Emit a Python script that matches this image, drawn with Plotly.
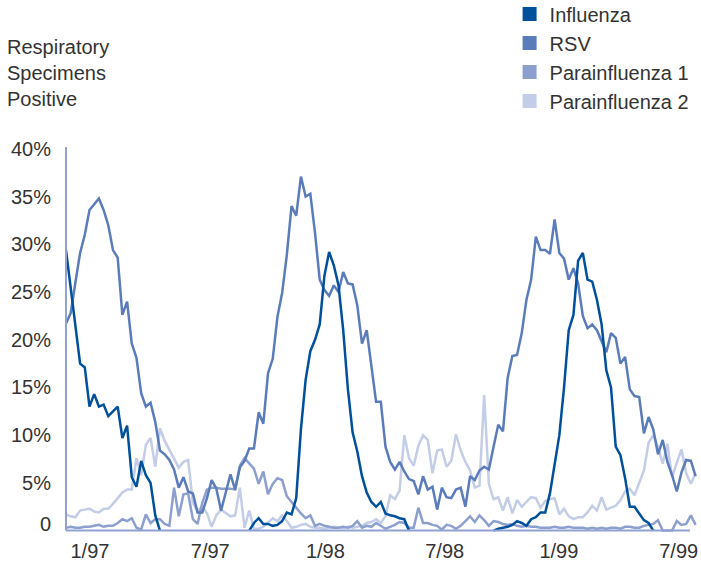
import plotly.graph_objects as go

# Données hebdomadaires (% de prélèvements respiratoires positifs)
# Un point par semaine, de fin novembre 1996 à fin juillet 1999
week = list(range(135))

tick_pos = [5.1, 30.7, 55.2, 80.6, 104.9, 130.4]
tick_text = ["1/97", "7/97", "1/98", "7/98", "1/99", "7/99"]
y_ticks = [5, 10, 15, 20, 25, 30, 35, 40]

# Grippe : seulement pendant les saisons de surveillance
influenza_9697 = [29.4, 25.4, 21.5, 17.5, 17.1, 13.0, 14.3, 13.0, 13.2, 12.0,
                  12.5, 13.0, 9.7, 11.0, 5.6, 4.6, 7.3, 5.8, 5.0, 1.6,
                  0.0]
influenza_9798 = [0.0, 0.8, 1.3, 0.7, 0.7, 0.5, 0.6, 1.0, 1.9, 1.7,
                  3.4, 10.6, 15.8, 18.8, 20.0, 21.6, 26.7, 29.2, 27.8, 25.7,
                  21.0, 14.8, 10.3, 8.3, 5.7, 4.0, 3.0, 2.5, 3.0, 1.8,
                  1.6, 1.5, 1.3, 1.2, 0.0]
influenza_9899 = [0.0, 0.2, 0.3, 0.4, 0.6, 1.0, 0.8, 0.5, 1.2, 1.4,
                  1.9, 1.9, 3.9, 6.8, 10.0, 15.0, 21.0, 22.6, 28.3, 29.1,
                  26.3, 26.1, 24.2, 21.6, 16.8, 15.0, 8.8, 7.9, 5.5, 2.5,
                  2.5, 1.8, 1.1, 0.8, 0.0]
influenza = (influenza_9697 + [None] * 18 + influenza_9798 + [None] * 17
             + influenza_9899 + [None] * 9)

rsv = [21.7, 22.8, 26.0, 29.1, 31.0, 33.6, 34.2, 34.8, 33.6, 32.0,
       29.4, 28.6, 22.6, 24.0, 19.6, 18.1, 14.4, 13.0, 13.4, 11.4,
       8.4, 8.0, 7.4, 6.4, 4.5, 5.6, 4.1, 3.9, 1.9, 1.9,
       3.4, 5.3, 4.4, 2.1, 4.0, 5.9, 4.3, 6.6, 7.3, 8.6,
       8.6, 12.4, 11.2, 16.5, 18.0, 22.4, 24.9, 28.9, 34.0, 33.0,
       37.1, 35.0, 35.3, 31.2, 26.3, 25.2, 24.6, 25.7, 25.0, 27.1,
       25.9, 25.8, 23.6, 19.6, 21.0, 17.2, 13.5, 13.5, 8.8, 7.2,
       6.4, 7.2, 6.2, 5.4, 5.2, 3.8, 5.7, 4.3, 4.6, 2.2,
       4.5, 3.5, 3.4, 4.3, 4.5, 2.5, 5.7, 5.3, 6.3, 6.7,
       6.4, 8.8, 11.1, 10.4, 16.0, 18.3, 18.4, 20.7, 24.2, 26.3,
       30.8, 29.4, 29.4, 29.0, 32.6, 29.1, 28.5, 26.3, 27.5, 25.9,
       22.5, 21.2, 21.6, 21.0, 19.9, 18.7, 20.7, 20.2, 17.5, 18.2,
       14.8, 14.1, 14.0, 10.2, 11.9, 10.6, 8.0, 9.5, 7.2, 5.8,
       4.1, 6.1, 7.4, 7.3, 5.7]

para1 = [0.3, 0.4, 0.3, 0.3, 0.4, 0.4, 0.5, 0.6, 0.4, 0.5,
         0.5, 0.8, 1.2, 1.0, 1.3, 0.3, 0.1, 1.7, 0.8, 1.2,
         1.2, 0.7, 0.5, 4.5, 1.5, 3.8, 3.9, 1.2, 0.7, 2.9,
         4.3, 4.5, 4.5, 4.4, 4.4, 4.4, 4.3, 6.8, 7.6, 7.1,
         6.5, 4.9, 6.2, 3.8, 4.9, 5.5, 5.3, 3.6, 3.0, 2.3,
         1.8, 1.3, 1.6, 0.5, 0.7, 0.5, 0.4, 0.3, 0.3, 0.4,
         0.3, 0.5, 1.0, 0.3, 0.5, 0.4, 0.8, 0.5, 0.2, 0.4,
         0.6, 0.9, 0.8, 0.3, 0.3, 2.4, 0.8, 0.8, 0.6, 0.5,
         0.1, 0.6, 0.5, 0.2, 0.5, 1.0, 1.5, 0.9, 1.6, 1.1,
         0.5, 1.0, 0.9, 0.7, 0.6, 0.7, 0.5, 0.4, 0.5, 0.4,
         0.4, 0.3, 0.3, 0.3, 0.4, 0.3, 0.3, 0.4, 0.3, 0.3,
         0.3, 0.2, 0.3, 0.2, 0.3, 0.2, 0.3, 0.3, 0.2, 0.4,
         0.4, 0.3, 0.3, 0.5, 0.6, 0.7, 1.1, 0.0, 0.0, 0.0,
         1.0, 0.6, 0.7, 1.6, 0.6]

para2 = [1.7, 1.5, 1.4, 2.1, 2.2, 2.3, 2.0, 1.9, 2.3, 2.3,
         2.8, 3.4, 4.0, 4.3, 4.3, 7.6, 5.8, 9.0, 9.7, 6.7,
         10.7, 9.4, 8.5, 7.5, 6.6, 7.2, 7.4, 2.9, 2.0, 2.6,
         1.8, 0.4, 1.6, 2.2, 1.8, 1.5, 1.6, 4.5, 0.3, 2.1,
         0.2, 0.2, 0.4, 0.9, 1.3, 1.0, 1.6, 1.0, 0.3, 0.4,
         0.6, 0.7, 0.4, 0.3, 0.3, 0.2, 0.3, 0.4, 0.3, 0.3,
         0.4, 0.3, 0.4, 0.5, 0.8, 0.9, 1.2, 0.8, 1.5, 3.7,
         3.3, 4.2, 10.0, 7.6, 6.8, 8.9, 10.0, 9.5, 6.0, 8.4,
         8.5, 6.7, 7.3, 10.1, 8.4, 7.2, 6.3, 4.5, 4.7, 14.2,
         4.9, 3.3, 3.5, 2.1, 3.5, 1.8, 3.2, 2.5, 3.0, 3.5,
         3.4, 2.4, 3.1, 3.3, 3.4, 1.7, 2.3, 1.5, 1.2, 1.4,
         1.4, 1.9, 2.6, 2.1, 3.5, 2.2, 2.4, 2.6, 3.2, 4.1,
         4.4, 3.7, 5.0, 6.3, 9.2, 10.0, 8.8, 7.0, 9.1, 5.6,
         7.1, 8.5, 6.0, 4.9, 6.0]

series = [
    ("Influenza", influenza, "#00509b"),
    ("RSV", rsv, "#5b7cbb"),
    ("Parainfluenza 1", para1, "#8c9fcf"),
    ("Parainfluenza 2", para2, "#c3cde7"),
]

FONT = dict(family="Liberation Sans, Arial, sans-serif", size=20, color="#333333")
AXIS_COLOR = "#8fa2d2"

fig = go.Figure()

# Courbes : de la plus claire (dessous) à la plus foncée (dessus)
for name, values, color in reversed(series):
    fig.add_trace(go.Scatter(
        x=week,
        y=values,
        mode='lines',
        name=name,
        line=dict(color=color, width=2.5),
        connectgaps=False,
        showlegend=False
    ))

# Légende avec des carrés de couleur
for name, values, color in series:
    fig.add_trace(go.Scatter(
        x=[None],
        y=[None],
        mode='markers',
        name=name,
        marker=dict(symbol='square', size=14, color=color)
    ))

# Axes dessinés à la main (l'axe x s'arrête avant la fin des courbes)
fig.add_shape(type='line', xref='paper', yref='y', x0=0, x1=0.989, y0=0, y1=0,
              line=dict(color=AXIS_COLOR, width=2))
fig.add_shape(type='line', xref='paper', yref='y', x0=0, x1=0, y0=0, y1=40.2,
              line=dict(color=AXIS_COLOR, width=2))

fig.update_layout(
    template='none',
    width=701,
    height=561,
    margin=dict(l=66, r=4, t=147, b=28, autoexpand=False),
    plot_bgcolor='white',
    paper_bgcolor='white',
    font=FONT,
    showlegend=True,
    legend=dict(
        x=0.703, y=1.395,
        xanchor='left', yanchor='top',
        bgcolor='rgba(0,0,0,0)',
        font=FONT
    ),
    xaxis=dict(
        range=[0, 134.3],
        tickvals=tick_pos,
        ticktext=tick_text,
        showgrid=False,
        zeroline=False,
        showline=False,
        ticks='',
        ticklabelstandoff=4
    ),
    yaxis=dict(
        range=[-0.25, 40.2],
        tickvals=y_ticks,
        ticktext=[f"{v}%" for v in y_ticks],
        showgrid=False,
        zeroline=False,
        showline=False,
        ticks='',
        ticklabelstandoff=14
    ),
    annotations=[
        dict(
            text="Respiratory<br>Specimens<br>Positive",
            xref='paper', yref='paper',
            x=-0.0967, y=1.193,
            xanchor='left', yanchor='middle',
            align='left',
            showarrow=False,
            font=FONT
        ),
        # le "0" est posé juste au-dessus de l'axe
        dict(
            text="0",
            xref='paper', yref='y',
            x=0, y=0,
            xanchor='right', yanchor='middle',
            xshift=-13, yshift=7,
            showarrow=False,
            font=FONT
        ),
    ]
)

# pas de marge autour du graphique dans la page, pas de barre d'outils
fig.write_html(
    "out.html",
    config={'displayModeBar': False},
    post_script="document.body.style.margin='0';"
)
